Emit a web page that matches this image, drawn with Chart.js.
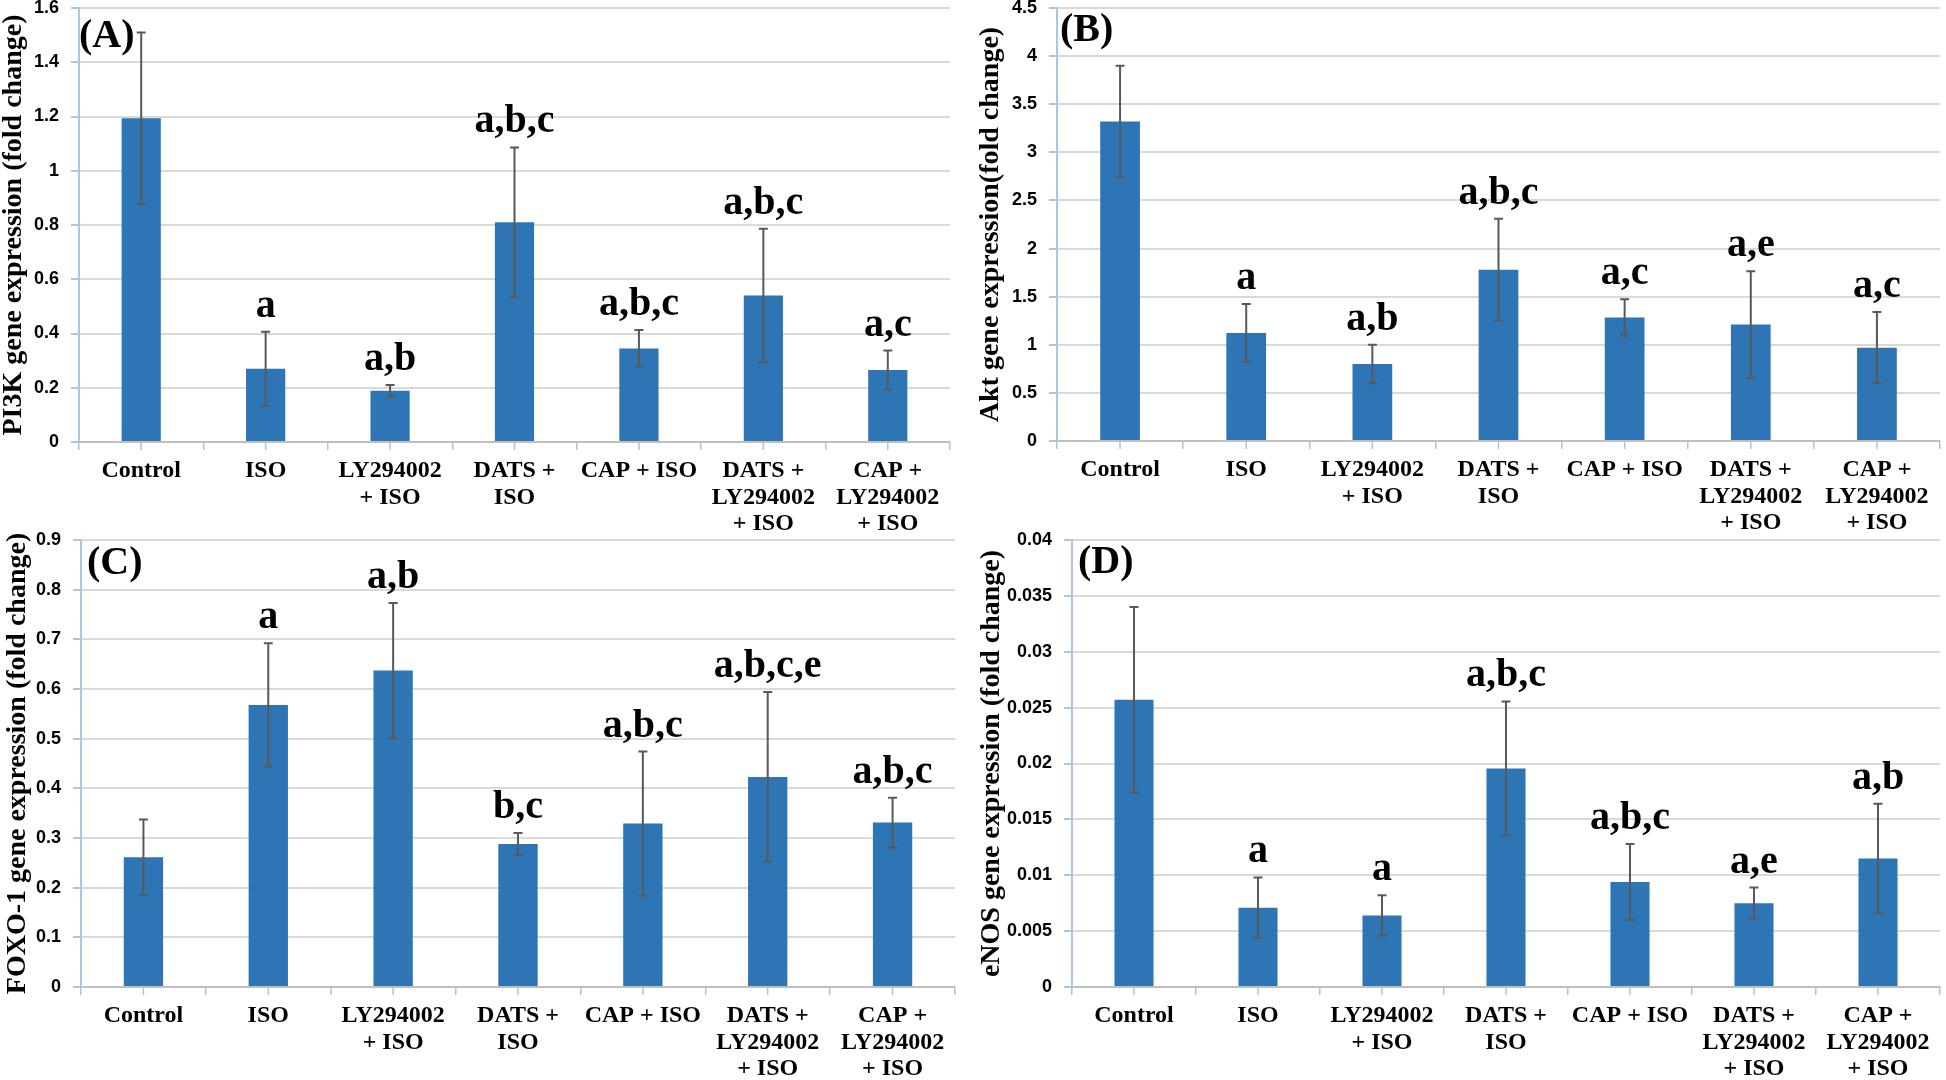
<!DOCTYPE html>
<html>
<head>
<meta charset="utf-8">
<script src="https://cdn.jsdelivr.net/npm/chart.js@4.4.1/dist/chart.umd.min.js"></script>
<style>
  body { margin: 0; background: #fff; width: 1946px; height: 1080px; overflow: hidden; position: relative; }
  canvas { position: absolute; }
</style>
</head>
<body>
<canvas id="chartA" width="973" height="560" style="left:0;top:0"></canvas>
<canvas id="chartB" width="973" height="560" style="left:973px;top:0"></canvas>
<canvas id="chartC" width="973" height="560" style="left:0;top:520px"></canvas>
<canvas id="chartD" width="973" height="560" style="left:973px;top:520px"></canvas>
<script>
// categories shared by all four panels
const groups = ['Control', 'ISO', ['LY294002', '+ ISO'], ['DATS +', 'ISO'], 'CAP + ISO',
                ['DATS +', 'LY294002', '+ ISO'], ['CAP +', 'LY294002', '+ ISO']];

// (A) PI3K
const pi3kMeans = [1.194, 0.270, 0.189, 0.810, 0.345, 0.540, 0.265];
const pi3kErrors = [0.316, 0.136, 0.021, 0.276, 0.068, 0.246, 0.072];
const pi3kLetters = ['', 'a', 'a,b', 'a,b,c', 'a,b,c', 'a,b,c', 'a,c'];
const pi3kTicks = [0, 0.2, 0.4, 0.6, 0.8, 1, 1.2, 1.4, 1.6];

// (B) Akt
const aktMeans = [3.32, 1.123, 0.80, 1.78, 1.284, 1.21, 0.97];
const aktErrors = [0.58, 0.30, 0.20, 0.53, 0.19, 0.555, 0.37];
const aktLetters = ['', 'a', 'a,b', 'a,b,c', 'a,c', 'a,e', 'a,c'];
const aktTicks = [0, 0.5, 1, 1.5, 2, 2.5, 3, 3.5, 4, 4.5];

// (C) FOXO-1
const foxoMeans = [0.261, 0.568, 0.637, 0.288, 0.329, 0.423, 0.331];
const foxoErrors = [0.076, 0.124, 0.136, 0.022, 0.145, 0.171, 0.050];
const foxoLetters = ['', 'a', 'a,b', 'b,c', 'a,b,c', 'a,b,c,e', 'a,b,c'];
const foxoTicks = [0, 0.1, 0.2, 0.3, 0.4, 0.5, 0.6, 0.7, 0.8, 0.9];

// (D) eNOS
const enosMeans = [0.0257, 0.0071, 0.0064, 0.01955, 0.0094, 0.0075, 0.0115];
const enosErrors = [0.0083, 0.0027, 0.0018, 0.0060, 0.0034, 0.0014, 0.0049];
const enosLetters = ['', 'a', 'a', 'a,b,c', 'a,b,c', 'a,e', 'a,b'];
const enosTicks = [0, 0.005, 0.01, 0.015, 0.02, 0.025, 0.03, 0.035, 0.04];

const serif = '"Liberation Serif", "Times New Roman", serif';
const sans = '"Liberation Sans", Arial, sans-serif';

// error bars, significance letters, centre tick marks and panel letter
const extrasPlugin = {
  id: 'extras',
  afterDatasetsDraw(chart) {
    const { ctx, scales: { x, y }, chartArea } = chart;
    const ds = chart.data.datasets[0];
    ctx.save();
    ctx.strokeStyle = '#595959';
    ctx.lineWidth = 2;
    ds.data.forEach((v, i) => {
      const px = x.getPixelForValue(i);
      const top = y.getPixelForValue(v + ds.errors[i]);
      const bot = y.getPixelForValue(v - ds.errors[i]);
      ctx.beginPath();
      ctx.moveTo(px, top); ctx.lineTo(px, bot);
      ctx.moveTo(px - 4.5, top); ctx.lineTo(px + 4.5, top);
      ctx.moveTo(px - 4.5, bot); ctx.lineTo(px + 4.5, bot);
      ctx.stroke();
      if (ds.letters[i]) {
        ctx.fillStyle = '#000';
        ctx.font = 'bold 40px ' + serif;
        ctx.textAlign = 'center';
        ctx.textBaseline = 'alphabetic';
        ctx.fillText(ds.letters[i], px, top - 15);
      }
    });
    // small ticks under each category centre
    ctx.strokeStyle = '#BFBFBF';
    ctx.lineWidth = 1.5;
    ds.data.forEach((v, i) => {
      const px = x.getPixelForValue(i);
      ctx.beginPath();
      ctx.moveTo(px, x.top); ctx.lineTo(px, x.top + 8);
      ctx.stroke();
    });
    ctx.fillStyle = '#000';
    ctx.font = 'bold 40px ' + serif;
    ctx.textAlign = 'left';
    ctx.textBaseline = 'middle';
    ctx.fillText(ds.panel, chartArea.left + ds.panelDx, chartArea.top + ds.panelDy);
    ctx.restore();
  }
};

function makePanel(id, means, errors, letters, ticks, title, panel, box) {
  const ctx = document.getElementById(id).getContext('2d');
  return new Chart(ctx, {
    type: 'bar',
    data: {
      labels: groups,
      datasets: [{
        data: means,
        errors: errors,
        letters: letters,
        panel: panel,
        panelDx: box.panelDx,
        panelDy: box.panelDy,
        backgroundColor: '#2E75B6',
        categoryPercentage: 1,
        barPercentage: 0.315
      }]
    },
    options: {
      responsive: false,
      animation: false,
      devicePixelRatio: 1,
      layout: { padding: { top: box.top, right: box.right, bottom: 0, left: 0 } },
      plugins: { legend: { display: false }, tooltip: { enabled: false } },
      scales: {
        x: {
          offset: true,
          grid: { offset: true, drawOnChartArea: false, color: '#BFBFBF', tickLength: 8, lineWidth: 1.5 },
          border: { color: '#BFBFBF', width: 2 },
          ticks: {
            color: '#000', padding: 7, maxRotation: 0, autoSkip: false,
            font: { family: serif, size: 24, weight: 'bold', lineHeight: 1.12 }
          },
          afterFit: s => { s.height = 560 - box.bottom; }
        },
        y: {
          min: ticks[0],
          max: ticks[ticks.length - 1],
          afterBuildTicks: s => { s.ticks = ticks.map(v => ({ value: v })); },
          grid: { color: '#D9D9D9', lineWidth: 2, tickColor: '#A9C8E8', tickLength: 8 },
          border: { color: '#A9C8E8', width: 2 },
          ticks: {
            color: '#000', padding: 12,
            font: { family: sans, size: 18, weight: 'bold', lineHeight: 1 },
            callback: v => String(v)
          },
          title: {
            display: true, text: title, color: '#000',
            padding: { top: box.titlePad, bottom: 0 },
            font: { family: serif, size: 28, weight: 'bold', lineHeight: 1 }
          },
          afterFit: s => { s.width = box.axis; s.paddingTop = 0; s.paddingBottom = 0; }
        }
      }
    },
    plugins: [extrasPlugin]
  });
}

makePanel('chartA', pi3kMeans, pi3kErrors, pi3kLetters, pi3kTicks,
  'PI3K gene expression (fold change)', '(A)',
  { top: 8, bottom: 442, right: 23, axis: 79, titlePad: 0, panelDx: 0, panelDy: 29 });
makePanel('chartB', aktMeans, aktErrors, aktLetters, aktTicks,
  'Akt gene expression(fold change)', '(B)',
  { top: 8, bottom: 441, right: 6, axis: 84, titlePad: 4, panelDx: 3, panelDy: 23 });
makePanel('chartC', foxoMeans, foxoErrors, foxoLetters, foxoTicks,
  'FOXO-1 gene expression (fold change)', '(C)',
  { top: 20, bottom: 467, right: 18, axis: 81, titlePad: 4, panelDx: 6, panelDy: 24 });
makePanel('chartD', enosMeans, enosErrors, enosLetters, enosTicks,
  'eNOS gene expression (fold change)', '(D)',
  { top: 20, bottom: 467, right: 6, axis: 99, titlePad: 5, panelDx: 6, panelDy: 23 });
</script>
</body>
</html>
